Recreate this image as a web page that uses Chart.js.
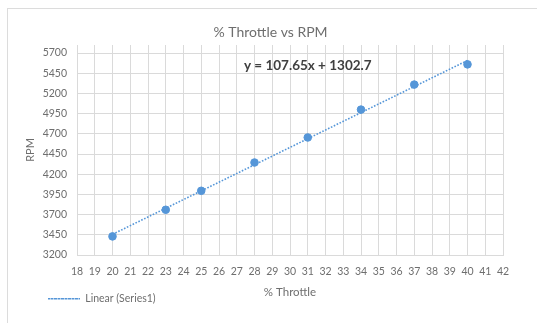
<!DOCTYPE html>
<html>
<head>
<meta charset="utf-8">
<script src="https://cdn.jsdelivr.net/npm/chart.js@4"></script>
<style>
  html, body { margin: 0; padding: 0; background: #ffffff; overflow: hidden; }
  #wrap { position: relative; width: 537px; height: 323px; overflow: hidden; }
  #frame { position: absolute; left: 7px; top: 8px; width: 600px; height: 400px; border: 1px solid #dcdcdc; box-sizing: border-box; }
  canvas { position: absolute; left: 0; top: 0; }
</style>
</head>
<body>
<div id="wrap">
  <div id="frame"></div>
  <canvas id="chart" width="537" height="323"></canvas>
</div>
<script>
// Measured throttle settings and engine speed
const throttle = [20, 23, 25, 28, 31, 34, 37, 40];
const rpm = [3430, 3760, 3995, 4345, 4655, 5000, 5310, 5560];

// Linear fit coefficients shown on the chart
const slope = 107.65;
const intercept = 1302.7;
const fitRange = [20, 40];

// Axis ticks
const xTicks = [18, 19, 20, 21, 22, 23, 24, 25, 26, 27, 28, 29, 30, 31, 32, 33, 34, 35, 36, 37, 38, 39, 40, 41, 42];
const yTicks = [3200, 3450, 3700, 3950, 4200, 4450, 4700, 4950, 5200, 5450, 5700];

const chartTitle = '% Throttle vs RPM';
const xTitle = '% Throttle';
const yTitle = 'RPM';
const fitLabel = 'Linear (Series1)';
const equationText = 'y = ' + slope + 'x + ' + intercept;

const FONT = 'Lato, "Open Sans", sans-serif';
const BLUE = '#5596d8';
const GRID = '#dadada';
const TEXT = '#6e6e6e';

const fitLine = fitRange.map(x => ({ x: x, y: slope * x + intercept }));

// Equation label anchored in data space
const equationPlugin = {
  id: 'equation',
  afterDatasetsDraw(chart) {
    const { ctx, scales } = chart;
    const px = scales.x.getPixelForValue(31);
    const py = scales.y.getPixelForValue(5550);
    ctx.save();
    ctx.font = 'bold 13.5px ' + FONT;
    ctx.fillStyle = '#404040';
    ctx.textAlign = 'center';
    ctx.textBaseline = 'middle';
    ctx.fillText(equationText, px, py);
    ctx.restore();
  }
};

new Chart(document.getElementById('chart'), {
  type: 'scatter',
  data: {
    datasets: [
      {
        label: 'Series1',
        data: throttle.map((x, i) => ({ x: x, y: rpm[i] })),
        backgroundColor: BLUE,
        borderColor: BLUE,
        pointRadius: 3.8,
        pointHoverRadius: 3.8,
        showLine: false,
        order: 1
      },
      {
        label: fitLabel,
        data: fitLine,
        type: 'line',
        showLine: true,
        borderColor: BLUE,
        backgroundColor: 'rgba(0,0,0,0)',
        borderWidth: 1.6,
        borderDash: [1.6, 1.6],
        pointRadius: 0,
        fill: false,
        order: 2
      }
    ]
  },
  options: {
    responsive: false,
    animation: false,
    devicePixelRatio: 1,
    layout: { padding: { left: 38, right: 34, top: 10, bottom: 9 } },
    plugins: {
      title: {
        display: true,
        text: chartTitle,
        color: TEXT,
        font: { family: FONT, size: 14, weight: 'normal' },
        padding: { top: 13.6, bottom: 4.6 }
      },
      legend: {
        display: true,
        position: 'bottom',
        align: 'start',
        labels: {
          filter: item => item.text === fitLabel,
          generateLabels: chart => {
            const ds = chart.data.datasets[1];
            return [{
              text: ds.label,
              datasetIndex: 1,
              fillStyle: 'rgba(0,0,0,0)',
              strokeStyle: ds.borderColor,
              lineWidth: 1.4,
              lineDash: [2, 1.5],
              lineCap: 'butt',
              fontColor: TEXT,
              hidden: false
            }];
          },
          boxWidth: 32,
          boxHeight: 0,
          padding: 10,
          color: TEXT,
          font: { family: FONT, size: 10.5 }
        }
      },
      tooltip: { enabled: false }
    },
    scales: {
      x: {
        type: 'linear',
        min: 18,
        max: 42,
        afterBuildTicks: s => { s.ticks = xTicks.map(v => ({ value: v })); },
        afterFit: s => { s.height = 28.5; },
        grid: { color: GRID, lineWidth: 1, drawTicks: false },
        border: { display: true, color: GRID },
        ticks: {
          color: TEXT,
          padding: 10,
          maxRotation: 0,
          autoSkip: false,
          callback: v => String(v),
          font: { family: FONT, size: 10.5 }
        },
        title: {
          display: true,
          text: xTitle,
          color: TEXT,
          font: { family: FONT, size: 11.5 },
          padding: { top: 0, bottom: -16 }
        }
      },
      y: {
        type: 'linear',
        min: 3200,
        max: 5800,
        afterBuildTicks: s => { s.ticks = yTicks.map(v => ({ value: v })); },
        afterFit: s => { s.width = 39; },
        grid: { color: GRID, lineWidth: 1, drawTicks: false },
        border: { display: true, color: GRID },
        ticks: {
          color: TEXT,
          padding: 10,
          callback: v => String(v),
          font: { family: FONT, size: 10.5 }
        },
        title: {
          display: true,
          text: yTitle,
          color: TEXT,
          font: { family: FONT, size: 11 },
          padding: { top: -14.6, bottom: 0 }
        }
      }
    }
  },
  plugins: [equationPlugin]
});
</script>
</body>
</html>
